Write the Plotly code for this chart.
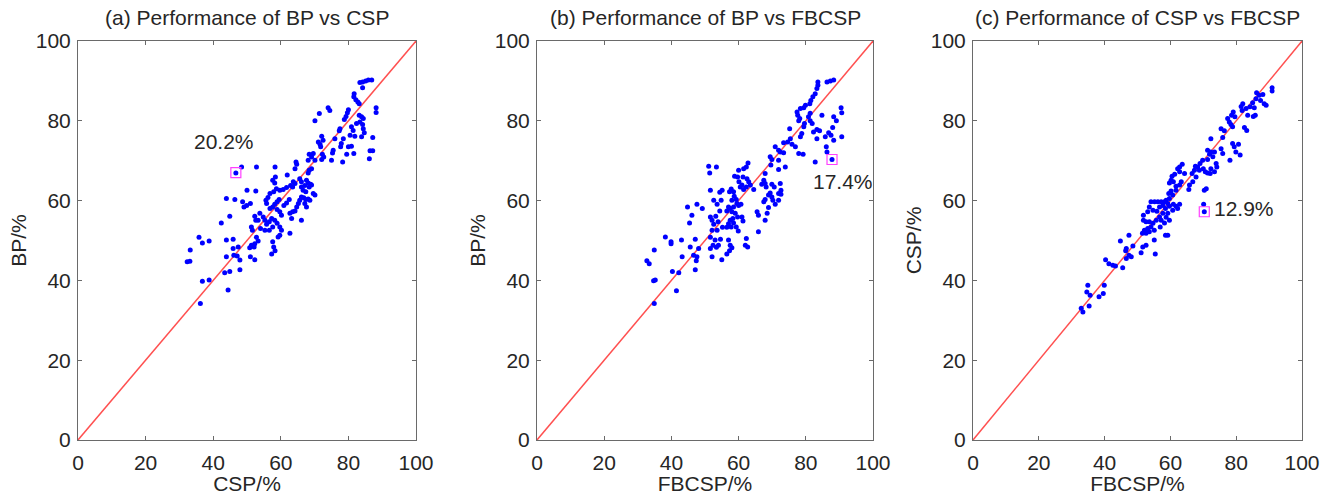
import plotly.graph_objects as go

# ---------------- data ----------------
# (a) BP vs CSP
a_csp = [83.4, 84.2, 85.1, 85.9, 86.9, 84.2,
         81.7, 81.6, 82.2, 82.8, 83.2, 88.2, 88.2,
         74.0, 74.5, 71.4, 80.0, 79.7, 79.3, 78.8, 83.2, 83.9, 84.4, 83.4, 82.4, 84.2, 70.1,
         77.5, 77.3, 80.9, 81.4, 80.5, 81.9, 84.4, 84.7, 83.9, 87.2, 72.1, 72.5, 71.1, 78.5, 76.0,
         71.6, 71.8, 77.9, 77.7, 80.0, 80.9, 79.5, 81.6, 86.4, 87.2, 86.2, 75.5, 75.3, 75.0, 78.3,
         69.6, 68.4, 69.1, 72.3, 72.7, 72.1, 70.1, 68.1,
         64.5, 64.7, 64.2, 69.1, 68.4, 68.1, 58.3, 52.8, 48.4, 46.7, 61.9,
         58.4, 57.6, 58.2, 63.7, 64.2, 62.9, 63.5, 61.7, 60.7, 59.7, 58.7, 57.9, 56.8, 65.6, 66.1,
         66.1, 67.6, 68.1, 68.8, 67.1, 68.4, 69.1, 66.6, 67.4, 69.6, 70.1, 50.0, 52.6,
         66.1, 66.8, 67.4, 68.1, 68.6, 67.1, 67.6, 65.6, 65.2, 64.7, 64.2, 63.5, 62.5, 61.7, 60.9,
         59.5, 58.9, 58.2, 57.6, 56.2, 55.6, 55.8, 56.8, 58.9, 59.7, 60.2, 43.9, 46.4, 48.7, 49.1,
         49.9, 51.0,
         53.8, 54.8, 53.3, 55.3, 55.8, 56.6, 57.3, 58.2, 58.9, 59.7, 57.6, 56.6, 55.3, 54.0, 60.2,
         62.7, 63.2, 66.1, 42.4, 44.9, 51.3, 51.6, 52.3, 52.6,
         62.7, 59.2, 59.7, 57.6, 57.9, 58.3, 57.3, 52.8, 53.3, 52.3, 51.3, 50.8, 52.1, 51.0, 52.3,
         45.9, 43.9, 47.4, 45.9, 38.8, 36.8, 35.8, 33.2, 46.1, 47.1, 43.9, 47.9,
         32.3, 33.1, 47.9, 43.4, 44.9, 36.8, 38.8, 44.4, 36.2]
a_bp = [89.6, 89.7, 90.0, 90.2, 90.2, 88.3,
        86.8, 86.0, 85.3, 84.7, 84.3, 83.3, 82.1,
        83.3, 82.6, 81.8, 82.8, 82.0, 81.1, 80.3, 81.4, 81.0, 80.6, 79.7, 79.3, 79.1, 80.0,
        78.0, 77.5, 78.5, 77.6, 76.4, 76.1, 78.0, 77.0, 76.0, 75.8, 76.1, 75.1, 74.7, 75.5, 75.5,
        74.1, 73.5, 74.3, 73.5, 73.5, 73.6, 71.6, 71.8, 72.5, 72.5, 70.5, 72.6, 71.9, 70.1, 69.7,
        71.8, 71.6, 70.9, 71.6, 70.9, 70.3, 70.1, 70.1,
        69.7, 69.1, 68.0, 68.0, 67.6, 66.9, 68.4, 68.4, 68.4, 66.9, 66.4,
        65.9, 65.1, 64.4, 64.7, 64.3, 63.8, 63.4, 63.3, 62.8, 62.6, 63.0, 62.2, 61.8, 65.5, 64.7,
        63.4, 65.1, 64.4, 64.1, 63.8, 63.4, 63.9, 62.6, 62.2, 61.8, 61.4, 62.6, 62.4,
        60.9, 60.7, 60.3, 60.4, 60.1, 59.3, 58.4, 60.1, 59.3, 58.4, 57.4, 57.2, 60.3, 59.4, 58.8,
        60.3, 59.7, 59.1, 58.4, 60.8, 60.1, 59.3, 58.0, 57.8, 57.2, 56.3, 60.5, 60.3, 59.7, 58.4,
        58.8, 59.3,
        56.8, 55.9, 55.1, 55.1, 54.1, 54.7, 55.5, 55.1, 54.3, 53.4, 53.4, 52.6, 52.6, 53.0, 52.6,
        56.8, 55.5, 55.1, 54.4, 56.1, 53.4, 52.6, 56.1, 55.1,
        51.8, 50.9, 51.3, 49.7, 48.4, 47.4, 46.6, 50.8, 49.9, 49.2, 48.8, 48.2, 48.4, 45.9, 45.2,
        50.3, 50.1, 48.4, 48.0, 49.9, 49.4, 50.8, 47.6, 46.3, 46.1, 45.9, 45.1,
        44.7, 44.8, 42.7, 41.9, 42.2, 39.8, 40.1, 37.6, 34.2]

# (b) BP vs FBCSP
b_fbcsp = [86.3, 87.3, 88.3, 83.6, 83.6, 83.3, 82.8,
           82.1, 81.5, 81.2, 79.9, 79.4, 78.4, 77.4, 77.6, 78.2, 77.9, 90.5, 90.7,
           81.3, 80.8, 81.3, 81.9, 84.8, 88.3, 89.1, 79.6, 79.4,
           75.2, 83.3, 84.1, 82.3, 88.0, 86.8, 87.5, 78.8, 78.4, 83.3, 85.8, 90.7, 88.3,
           75.4, 74.6, 73.4, 75.9, 76.9, 86.1, 70.9, 71.9, 72.4, 73.4, 86.3, 77.9, 79.2, 87.8, 82.8,
           69.4, 69.9, 71.9, 69.6, 73.9, 71.9, 67.9,
           51.1, 51.4, 53.4, 62.8, 62.3, 61.5, 60.0, 61.3, 62.5, 59.7, 58.8, 60.1, 61.0, 63.0, 63.5,
           64.5, 62.3, 61.5, 60.5,
           67.5, 67.9, 66.9, 68.2, 69.9, 70.6, 72.4, 72.6, 71.9, 72.6, 69.4, 69.9, 70.2, 68.9, 67.9,
           67.5, 71.9, 70.9, 68.9, 68.5, 67.9, 65.5, 65.9, 65.9,
           57.8, 57.3, 58.5, 58.7, 59.3, 58.0, 59.5, 60.0, 60.7, 58.5, 57.5, 57.0, 56.5, 58.0, 59.0,
           59.7, 58.3, 57.5, 58.5, 57.0, 57.8, 59.3, 59.9, 61.0, 61.3,
           55.1, 54.4, 51.6, 52.6, 53.6, 54.8, 54.4, 53.2, 51.6, 52.1, 52.6, 53.9, 55.2, 56.5, 53.6,
           52.1, 51.6, 53.0, 54.6, 54.0, 52.4, 53.4, 51.6, 57.0, 57.5, 58.0, 57.3, 56.5, 55.0, 62.3,
           62.0, 62.7, 52.1,
           44.8, 47.6, 49.2, 46.1, 45.4, 47.1, 43.0, 39.9, 38.2, 39.9, 48.1, 45.6, 46.6, 47.6, 47.4,
           47.1, 43.2, 32.7, 33.4, 34.9, 40.3, 42.2, 34.7, 35.2, 41.5, 34.9]
b_bp = [89.7, 90.0, 90.2, 89.7, 88.9, 88.1, 86.8,
        86.0, 85.1, 84.3, 83.9, 83.3, 83.1, 82.2, 81.4, 80.6, 80.0, 83.3, 82.0,
        81.9, 81.0, 80.0, 79.3, 81.4, 81.0, 80.0, 79.3, 78.5,
        78.0, 77.8, 77.5, 77.2, 78.3, 77.0, 76.4, 76.8, 76.0, 75.5, 76.0, 76.0, 75.1,
        75.5, 74.7, 74.5, 74.1, 73.5, 73.5, 73.5, 72.6, 72.2, 72.0, 72.2, 71.8, 71.6, 70.3, 69.7,
        71.0, 70.3, 70.1, 68.9, 68.4, 67.8, 66.8,
        68.6, 66.9, 68.4, 69.4, 68.4, 68.0, 67.6, 65.9, 65.5, 65.9, 66.1, 64.7, 63.9, 64.7, 63.9,
        62.8, 63.4, 62.8, 63.4,
        65.1, 64.3, 64.1, 63.4, 64.1, 63.4, 64.3, 62.6, 61.8, 61.6, 61.9, 60.9, 60.1, 61.4, 60.3,
        59.7, 60.1, 59.1, 58.3, 56.8, 55.1, 57.2, 56.3, 52.2,
        62.9, 62.2, 62.2, 61.1, 60.3, 60.1, 59.3, 58.8, 59.1, 58.4, 58.0, 58.4, 57.4, 57.2, 56.8,
        55.9, 55.5, 55.1, 54.4, 54.2, 53.4, 53.4, 52.4, 55.9, 54.9,
        62.6, 62.1, 62.6, 60.1, 59.1, 60.1, 57.4, 56.1, 55.9, 55.1, 54.1, 54.7, 53.3, 53.3, 52.6,
        52.6, 50.8, 50.1, 50.3, 48.8, 48.8, 48.3, 48.0, 50.1, 48.8, 48.2, 47.4, 46.6, 45.2, 50.5,
        48.8, 48.4, 45.9,
        58.4, 59.1, 58.0, 56.3, 54.4, 50.3, 50.1, 49.7, 50.9, 49.2, 48.0, 48.4, 46.3, 45.9, 44.9,
        42.7, 45.9, 44.9, 44.2, 47.6, 42.2, 41.9, 39.9, 40.1, 37.4, 34.2]

# (c) CSP vs FBCSP
c_fbcsp = [90.9, 90.9, 86.2, 87.0, 88.1, 87.4, 88.5, 89.1, 86.0, 85.0, 85.5, 84.2, 83.0, 82.0, 81.5,
           81.8, 83.5, 85.2, 85.8, 82.5, 83.2, 80.7,
           79.1, 78.6, 79.6, 77.4, 77.9, 78.4, 78.9, 75.4, 76.4, 75.9, 72.3, 78.9, 79.4, 79.9, 81.2,
           78.1, 75.4, 75.9,
           71.3, 72.3, 73.4, 71.9, 72.9, 71.3, 69.8, 69.0, 68.3, 68.8, 70.0, 70.6, 71.3, 73.9, 74.1,
           72.3, 72.1, 73.4, 67.6, 67.3, 66.6, 67.8, 66.8, 65.8, 65.6, 70.9, 70.3,
           63.6, 62.8, 62.2, 62.8, 64.3, 63.3, 62.8, 61.7, 60.9, 60.2, 59.7, 60.5, 61.3, 61.7, 60.2,
           59.5, 60.7, 59.7, 58.7, 59.2, 58.2, 57.7, 57.2, 56.2, 55.2, 54.1, 56.7, 58.5, 59.7, 60.9,
           61.7, 62.8, 62.2, 60.7, 59.2, 57.7, 56.7, 57.2, 58.7, 59.7, 58.2, 55.9, 54.7, 53.6, 53.1,
           51.8, 51.8, 52.6, 53.6, 54.7, 54.1, 53.1, 52.1, 51.5, 52.6, 53.6, 55.1, 58.5, 59.2, 56.9,
           55.7, 70.1, 70.3,
           51.6, 51.1, 52.6, 55.1, 55.4, 44.8, 47.4, 48.6, 46.6, 46.4, 47.4, 48.1, 46.6, 45.5, 40.3,
           41.3, 42.5, 43.3, 34.9, 34.6, 35.6, 39.9, 39.6, 38.3, 35.3, 32.9, 33.4]
c_csp = [88.3, 87.5, 87.0, 86.4, 86.6, 85.1, 84.3, 83.9, 85.5, 84.5, 83.3, 83.5, 83.1, 84.3, 83.6,
         82.6, 81.4, 81.1, 81.4, 78.3, 77.6, 74.1,
         82.2, 81.4, 81.0, 80.6, 79.7, 79.1, 78.5, 78.0, 77.5, 75.8, 75.5, 74.3, 73.5, 72.2, 71.4,
         70.1, 73.0, 71.8,
         72.6, 72.2, 72.2, 71.6, 71.0, 70.3, 70.1, 69.3, 68.4, 67.6, 68.0, 67.2, 66.9, 69.3, 68.4,
         68.0, 66.8, 67.2, 68.6, 67.6, 66.8, 65.9, 64.7, 63.9, 62.8, 63.0, 62.6,
         69.1, 68.4, 68.0, 67.2, 66.8, 64.7, 63.9, 63.6, 64.7, 65.1, 64.4, 66.1, 66.6, 62.6, 62.4,
         61.8, 61.4, 60.5, 60.1, 59.3, 59.7, 58.8, 59.7, 59.7, 59.7, 59.7, 58.4, 58.0, 58.6, 59.1,
         58.6, 59.1, 58.0, 57.6, 56.8, 56.8, 55.9, 55.1, 55.8, 55.1, 54.4, 57.3, 57.6, 58.4, 57.2,
         56.3, 55.1, 54.7, 54.7, 54.3, 53.4, 53.0, 52.6, 51.8, 51.8, 52.2, 52.6, 51.3, 51.3, 53.4,
         55.1, 59.1, 57.2,
         48.4, 46.9, 48.8, 50.1, 46.6, 49.9, 51.3, 48.6, 48.0, 47.4, 46.3, 45.9, 45.5, 43.2, 45.2,
         44.2, 43.8, 43.6, 38.8, 37.1, 36.3, 38.8, 36.7, 35.9, 33.6, 33.0, 32.1]

# highlighted subjects and their labels
hl_x = [46.7, 87.8, 70.3]
hl_y = [67.0, 70.3, 57.2]
hl_text = ["20.2%", "17.4%", "12.9%"]
hl_text_x = [43.1, 91.1, 82.5]
hl_text_y = [74.7, 64.7, 58.0]

diag = [0, 100]
tick_vals = [0, 20, 40, 60, 80, 100]

titles = ["(a) Performance of BP vs CSP",
          "(b) Performance of BP vs FBCSP",
          "(c) Performance of CSP vs FBCSP"]
x_titles = ["CSP/%", "FBCSP/%", "FBCSP/%"]
y_titles = ["BP/%", "BP/%", "CSP/%"]

panels = [(a_csp, a_bp), (b_fbcsp, b_bp), (c_fbcsp, c_csp)]

# ---------------- layout geometry (paper fractions) ----------------
W, H = 1326, 495
x_domains = [(78 / W, 416 / W), (537 / W, 873 / W), (973 / W, 1302 / W)]
y_domain = (1 - 440 / H, 1 - 41 / H)

FONT = "Liberation Sans, Arial, Helvetica, sans-serif"
TXT = "#262626"
AXC = "#6a6a6a"

fig = go.Figure()
layout = dict(
    width=W, height=H,
    margin=dict(l=0, r=0, t=0, b=0, autoexpand=False),
    paper_bgcolor="white", plot_bgcolor="white",
    showlegend=False,
    font=dict(family=FONT, size=21, color=TXT),
    annotations=[],
)

for i, (px, py) in enumerate(panels):
    sfx = "" if i == 0 else str(i + 1)
    xa, ya = "x" + sfx, "y" + sfx
    fig.add_trace(go.Scatter(x=diag, y=diag, mode="lines", xaxis=xa, yaxis=ya,
                             line=dict(color="#FF5050", width=1.5), hoverinfo="skip"))
    fig.add_trace(go.Scatter(x=px, y=py, mode="markers", xaxis=xa, yaxis=ya,
                             marker=dict(color="#0000FF", size=5, line=dict(width=0))))
    fig.add_trace(go.Scatter(x=[hl_x[i]], y=[hl_y[i]], mode="markers", xaxis=xa, yaxis=ya,
                             marker=dict(symbol="square-open", color="#FF40FF", size=10,
                                         line=dict(width=1.2, color="#FF40FF"))))
    axis_common = dict(range=[0, 100], tickvals=tick_vals, ticks="inside", ticklen=4,
                       tickwidth=1, tickcolor=AXC, showline=True, linecolor=AXC, linewidth=1,
                       mirror="ticks", showgrid=False, zeroline=False, automargin=False,
                       tickfont=dict(size=21, color=TXT, family=FONT))
    layout["xaxis" + sfx] = dict(axis_common, domain=list(x_domains[i]), anchor=ya,
                                 ticklabelstandoff=4,
                                 title=dict(text=x_titles[i], standoff=2,
                                            font=dict(size=21, color=TXT)))
    layout["yaxis" + sfx] = dict(axis_common, domain=list(y_domain), anchor=xa,
                                 ticklabelstandoff=2,
                                 title=dict(text=y_titles[i], standoff=3,
                                            font=dict(size=21, color=TXT)))
    # panel title
    layout["annotations"].append(dict(
        text=titles[i], xref="paper", yref="paper",
        x=(x_domains[i][0] + x_domains[i][1]) / 2, y=1 - 17 / H,
        xanchor="center", yanchor="middle", showarrow=False,
        font=dict(size=21, color=TXT, family=FONT)))
    # percentage label
    layout["annotations"].append(dict(
        text=hl_text[i], xref=xa, yref=ya, x=hl_text_x[i], y=hl_text_y[i],
        xanchor="center", yanchor="middle", showarrow=False,
        font=dict(size=21, color=TXT, family=FONT)))

fig.update_layout(**layout)
fig.write_html("out.html",
               config={"displayModeBar": False},
               post_script="document.body.style.margin='0px';document.body.style.overflow='hidden';")
